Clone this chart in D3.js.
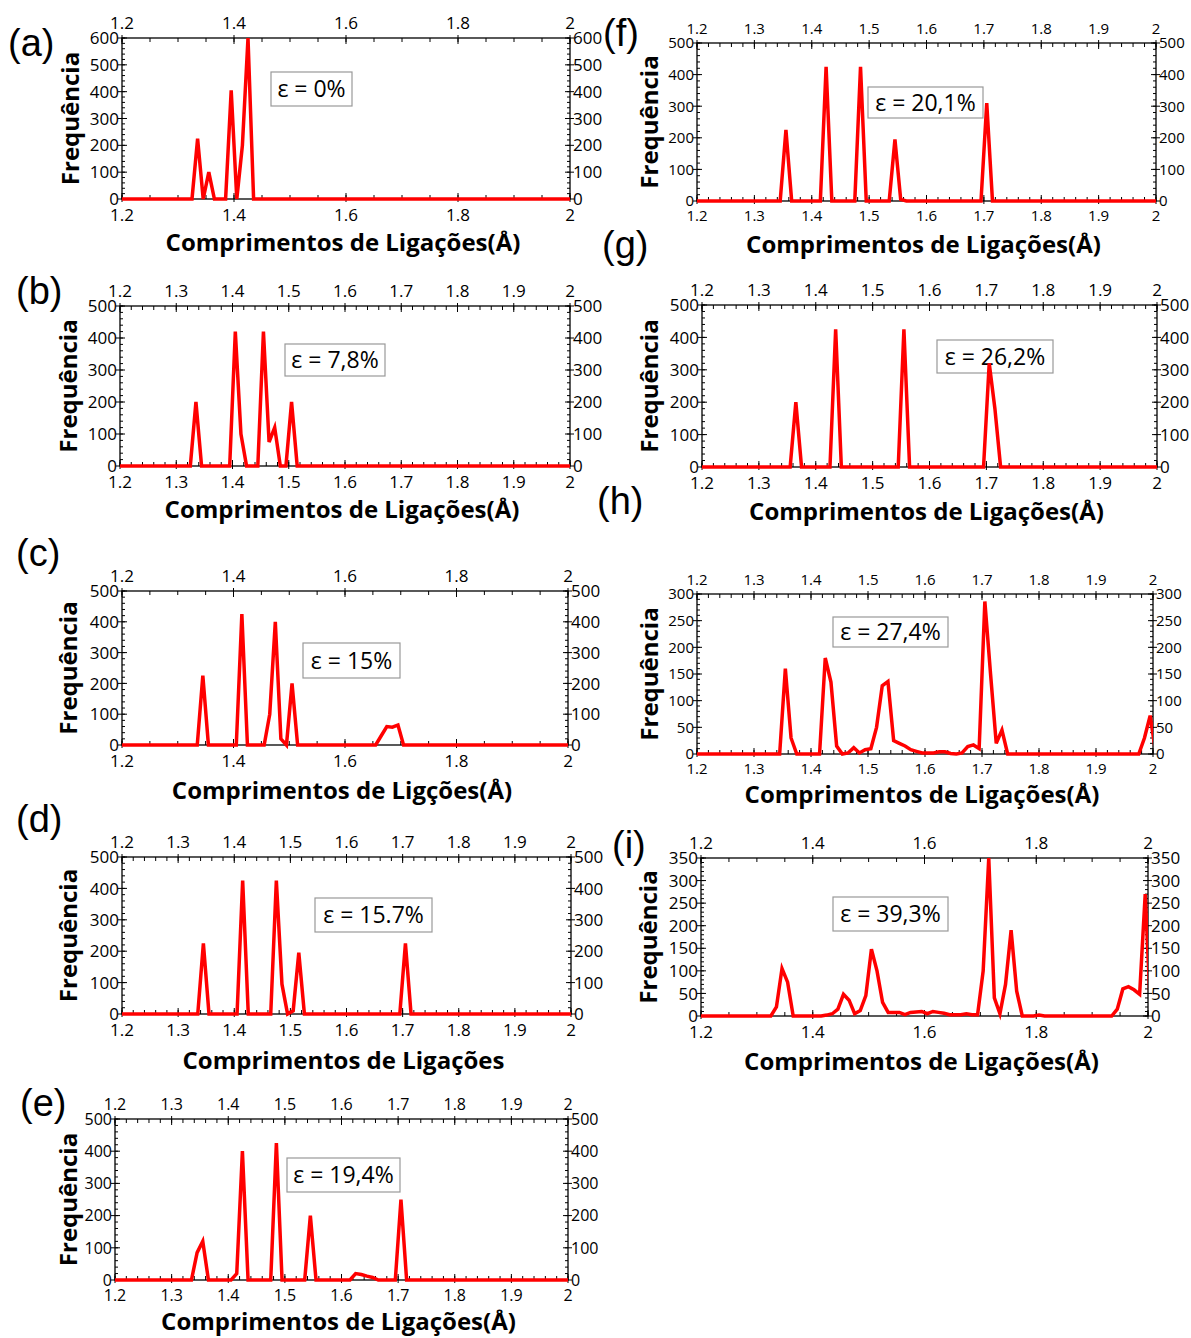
<!DOCTYPE html>
<html>
<head>
<meta charset="utf-8">
<script src="https://cdn.jsdelivr.net/npm/d3@7"></script>
<style>
  body { margin: 0; background: #fff; }
  svg { display: block; }
</style>
</head>
<body>
<svg id="fig" width="1191" height="1338"></svg>
<script>
// ---- tick labels ----
const xTicksFine = [1.2, 1.3, 1.4, 1.5, 1.6, 1.7, 1.8, 1.9, 2];
const xTicksCoarse = [1.2, 1.4, 1.6, 1.8, 2];
const yTicks600 = [0, 100, 200, 300, 400, 500, 600];
const yTicks500 = [0, 100, 200, 300, 400, 500];
const yTicks300 = [0, 50, 100, 150, 200, 250, 300];
const yTicks350 = [0, 50, 100, 150, 200, 250, 300, 350];

// ---- bond-length histograms: bond length (Å) and count, one pair per strain ----
const lenA  = [1.2, 1.325, 1.335, 1.345, 1.355, 1.365, 1.385, 1.395, 1.405, 1.415, 1.425, 1.435, 2.0];
const freqA = [0,   0,     225,   0,     100,   0,     0,     405,   0,     200,   600,   0,     0];

const lenB  = [1.2, 1.325, 1.335, 1.345, 1.395, 1.405, 1.415, 1.425, 1.445, 1.455, 1.465, 1.475, 1.485, 1.495, 1.505, 1.515, 2.0];
const freqB = [0,   0,     200,   0,     0,     420,   100,   0,     0,     420,   75,    120,   0,     0,     200,   0,     0];

const lenC  = [1.2, 1.335, 1.345, 1.355, 1.405, 1.415, 1.425, 1.455, 1.465, 1.475, 1.485, 1.495, 1.505, 1.515, 1.655, 1.665, 1.675, 1.685, 1.695, 1.705, 2.0];
const freqC = [0,   0,     225,   0,     0,     425,   0,     0,     100,   400,   20,    0,     200,   0,     0,     30,    60,    58,    65,    0,     0];

const lenD  = [1.2, 1.335, 1.345, 1.355, 1.405, 1.415, 1.425, 1.465, 1.475, 1.485, 1.495, 1.505, 1.515, 1.525, 1.695, 1.705, 1.715, 2.0];
const freqD = [0,   0,     225,   0,     0,     425,   0,     0,     425,   95,    0,     10,    195,   0,     0,     225,   0,     0];

const lenE  = [1.2, 1.335, 1.345, 1.355, 1.365, 1.405, 1.415, 1.425, 1.435, 1.475, 1.485, 1.495, 1.535, 1.545, 1.555, 1.615, 1.625, 1.635, 1.645, 1.655, 1.665, 1.695, 1.705, 1.715, 2.0];
const freqE = [0,   0,     85,    120,   0,     0,     20,    400,   0,     0,     425,   0,     0,     200,   0,     0,     20,    17,    12,    8,     0,     0,     250,   0,     0];

const lenF  = [1.2, 1.345, 1.355, 1.365, 1.415, 1.425, 1.435, 1.475, 1.485, 1.495, 1.535, 1.545, 1.555, 1.565, 1.695, 1.705, 1.715, 2.0];
const freqF = [0,   0,     225,   0,     0,     425,   0,     0,     425,   0,     0,     195,   5,     0,     0,     310,   0,     0];

const lenG  = [1.2, 1.355, 1.365, 1.375, 1.425, 1.435, 1.445, 1.545, 1.555, 1.565, 1.695, 1.705, 1.715, 1.725, 2.0];
const freqG = [0,   0,     200,   0,     0,     425,   0,     0,     425,   0,     0,     320,   180,   0,     0];

const lenH  = [1.2, 1.345, 1.355, 1.365, 1.375, 1.415, 1.425, 1.435, 1.445, 1.455, 1.465, 1.475, 1.485, 1.495, 1.505, 1.515, 1.525, 1.535, 1.545, 1.555, 1.565, 1.575, 1.585, 1.595, 1.605, 1.615, 1.625, 1.635, 1.645, 1.655, 1.665, 1.675, 1.685, 1.695, 1.705, 1.715, 1.725, 1.735, 1.745, 1.975, 1.985, 1.995, 2.005];
const freqH = [0,   0,     160,   30,    0,     0,     180,   135,   15,    0,     2,     12,    2,     8,     10,    50,    128,   136,   25,    20,    15,    8,     5,     2,     2,     2,     4,     4,     1,     0,     2,     14,    17,    10,    286,   150,   20,    45,    0,     0,     30,    72,    0];

const lenI  = [1.2, 1.325, 1.335, 1.345, 1.355, 1.365, 1.415, 1.425, 1.435, 1.445, 1.455, 1.465, 1.475, 1.485, 1.495, 1.505, 1.515, 1.525, 1.535, 1.545, 1.555, 1.565, 1.575, 1.585, 1.595, 1.605, 1.615, 1.625, 1.635, 1.645, 1.655, 1.665, 1.675, 1.685, 1.695, 1.705, 1.715, 1.725, 1.735, 1.745, 1.755, 1.765, 1.775, 1.795, 1.805, 1.815, 1.935, 1.945, 1.955, 1.965, 1.975, 1.985, 1.995, 2.005];
const freqI = [0,   0,     20,    105,   75,    0,     0,     2,     5,     15,    48,    35,    5,     12,    45,    148,   100,   30,    8,     8,     8,     3,     8,     9,     10,    5,     10,    8,     6,     3,     3,     3,     5,     3,     3,     100,   350,   40,    5,     70,    190,   55,    0,     0,     2,     0,     0,     15,    60,    65,    58,    48,    270,   0];

const strainLabels = ["ε = 0%", "ε = 7,8%", "ε = 15%", "ε = 15.7%", "ε = 19,4%", "ε = 20,1%", "ε = 26,2%", "ε = 27,4%", "ε = 39,3%"];
const panelLetters = ["(a)", "(b)", "(c)", "(d)", "(e)", "(f)", "(g)", "(h)", "(i)"];
const xTitleFull = "Comprimentos de Ligações(Å)";
const xTitleC = "Comprimentos de Ligções(Å)";
const xTitleD = "Comprimentos de Ligações";
const yTitle = "Frequência";

// ---- panel layout (pixel boxes) ----
const panels = [
  { len: lenA, freq: freqA, yTicks: yTicks600, yMinor: 20, xTicks: xTicksCoarse, xMinor: 0.05, L: 122, R: 570, T: 38,  B: 199,  fs: 17,
    letter: [8, 56],   title: xTitleFull, titleY: 251, yTitleX: 80, box: [271, 72, 81, 34] },
  { len: lenB, freq: freqB, yTicks: yTicks500, yMinor: 20, xTicks: xTicksFine,   xMinor: 0.02, L: 120, R: 570, T: 306, B: 466,  fs: 17,
    letter: [16, 304], title: xTitleFull, titleY: 518, yTitleX: 78, box: [285, 344, 100, 32] },
  { len: lenC, freq: freqC, yTicks: yTicks500, yMinor: 20, xTicks: xTicksCoarse, xMinor: 0.05, L: 122, R: 568, T: 591, B: 745,  fs: 17,
    letter: [16, 566], title: xTitleC,    titleY: 799, yTitleX: 78, box: [303, 643, 97, 35] },
  { len: lenD, freq: freqD, yTicks: yTicks500, yMinor: 20, xTicks: xTicksFine,   xMinor: 0.02, L: 122, R: 571, T: 857, B: 1014, fs: 17,
    letter: [16, 832], title: xTitleD,    titleY: 1069, yTitleX: 78, box: [315, 898, 117, 34] },
  { len: lenE, freq: freqE, yTicks: yTicks500, yMinor: 20, xTicks: xTicksFine,   xMinor: 0.02, L: 115, R: 568, T: 1119, B: 1280, fs: 16,
    letter: [20, 1116], title: xTitleFull, titleY: 1330, yTitleX: 78, box: [287, 1158, 113, 34] },
  { len: lenF, freq: freqF, yTicks: yTicks500, yMinor: 20, xTicks: xTicksFine,   xMinor: 0.02, L: 697, R: 1156, T: 43, B: 201,  fs: 15,
    letter: [603, 46], title: xTitleFull, titleY: 253, yTitleX: 659, box: [868, 87, 115, 31] },
  { len: lenG, freq: freqG, yTicks: yTicks500, yMinor: 20, xTicks: xTicksFine,   xMinor: 0.02, L: 702, R: 1157, T: 305, B: 467,  fs: 17,
    letter: [602, 258], title: xTitleFull, titleY: 520, yTitleX: 659, box: [937, 340, 116, 33] },
  { len: lenH, freq: freqH, yTicks: yTicks300, yMinor: 10, xTicks: xTicksFine,   xMinor: 0.02, L: 697, R: 1153, T: 594, B: 754,  fs: 15,
    letter: [597, 514], title: xTitleFull, titleY: 803, yTitleX: 659, box: [833, 617, 115, 30] },
  { len: lenI, freq: freqI, yTicks: yTicks350, yMinor: 10, xTicks: xTicksCoarse, xMinor: 0.05, L: 701, R: 1148, T: 858, B: 1016, fs: 17,
    letter: [612, 858], title: xTitleFull, titleY: 1070, yTitleX: 658, box: [833, 897, 115, 34] }
];

const svg = d3.select("#fig");
const TICK_FONT = "'Open Sans', 'DejaVu Sans', sans-serif";

panels.forEach((p, i) => {
  const g = svg.append("g");
  const x = d3.scaleLinear().domain([1.2, 2]).range([p.L, p.R]);
  const yMax = p.yTicks[p.yTicks.length - 1];
  const y = d3.scaleLinear().domain([0, yMax]).range([p.B, p.T]);

  // frame
  g.append("rect")
    .attr("x", p.L).attr("y", p.T)
    .attr("width", p.R - p.L).attr("height", p.B - p.T)
    .attr("fill", "none").attr("stroke", "#000").attr("stroke-width", 1.3);

  const ticks = g.append("g").attr("stroke", "#000").attr("stroke-width", 1);

  // x ticks (inward) on bottom and top
  const xMinor = d3.range(1.2, 2.0001, p.xMinor);
  xMinor.forEach(v => {
    ticks.append("line").attr("x1", x(v)).attr("x2", x(v)).attr("y1", p.B).attr("y2", p.B - 4);
    ticks.append("line").attr("x1", x(v)).attr("x2", x(v)).attr("y1", p.T).attr("y2", p.T + 4);
  });
  p.xTicks.forEach(v => {
    ticks.append("line").attr("x1", x(v)).attr("x2", x(v)).attr("y1", p.B + 3).attr("y2", p.B - 6);
    ticks.append("line").attr("x1", x(v)).attr("x2", x(v)).attr("y1", p.T - 3).attr("y2", p.T + 6);
  });

  // y ticks on left and right
  const yMinor = d3.range(0, yMax + 0.001, p.yMinor);
  yMinor.forEach(v => {
    ticks.append("line").attr("x1", p.L).attr("x2", p.L + 3).attr("y1", y(v)).attr("y2", y(v));
    ticks.append("line").attr("x1", p.R).attr("x2", p.R - 3).attr("y1", y(v)).attr("y2", y(v));
  });
  p.yTicks.forEach(v => {
    ticks.append("line").attr("x1", p.L - 4).attr("x2", p.L + 5).attr("y1", y(v)).attr("y2", y(v));
    ticks.append("line").attr("x1", p.R + 4).attr("x2", p.R - 5).attr("y1", y(v)).attr("y2", y(v));
  });

  const fmt = v => String(+v.toFixed(1));
  const lab = g.append("g").attr("font-family", TICK_FONT).attr("font-size", p.fs).attr("fill", "#000");
  p.xTicks.forEach(v => {
    lab.append("text").attr("x", x(v)).attr("y", p.B + 9 + p.fs * 0.75).attr("text-anchor", "middle").text(fmt(v));
    lab.append("text").attr("x", x(v)).attr("y", p.T - 9).attr("text-anchor", "middle").text(fmt(v));
  });
  p.yTicks.forEach(v => {
    lab.append("text").attr("x", p.L - 3).attr("y", y(v)).attr("dy", "0.36em").attr("text-anchor", "end").text(v);
    lab.append("text").attr("x", p.R + 3).attr("y", y(v)).attr("dy", "0.36em").attr("text-anchor", "start").text(v);
  });

  // strain annotation box
  const [bx, by, bw, bh] = p.box;
  g.append("rect").attr("x", bx).attr("y", by).attr("width", bw).attr("height", bh)
    .attr("fill", "#fff").attr("stroke", "#999").attr("stroke-width", 1.2);
  g.append("text").attr("x", bx + bw / 2).attr("y", by + bh / 2).attr("dy", "0.36em")
    .attr("text-anchor", "middle").attr("font-family", TICK_FONT).attr("font-size", 23)
    .text(strainLabels[i]);

  // histogram line, clipped to the plot width
  const clipId = "clip" + i;
  svg.append("defs").append("clipPath").attr("id", clipId)
    .append("rect").attr("x", p.L).attr("y", p.T - 10).attr("width", p.R - p.L).attr("height", p.B - p.T + 20);
  const pts = p.len.map((v, k) => [v, p.freq[k]]);
  g.append("path")
    .datum(pts)
    .attr("clip-path", `url(#${clipId})`)
    .attr("fill", "none").attr("stroke", "#ff0000").attr("stroke-width", 3.5)
    .attr("d", d3.line().x(d => x(d[0])).y(d => y(d[1])));

  // axis titles
  g.append("text").attr("x", (p.L + p.R) / 2 - 3).attr("y", p.titleY)
    .attr("text-anchor", "middle").attr("font-family", TICK_FONT).attr("font-weight", "bold")
    .attr("font-size", 24).text(p.title);
  g.append("text")
    .attr("transform", `translate(${p.yTitleX - 1},${(p.T + p.B) / 2}) rotate(-90)`)
    .attr("text-anchor", "middle").attr("font-family", TICK_FONT).attr("font-weight", "bold")
    .attr("font-size", 24).text(yTitle);

  // panel letter
  g.append("text").attr("x", p.letter[0]).attr("y", p.letter[1])
    .attr("font-family", "'Liberation Sans', Arial, sans-serif").attr("font-size", 38)
    .text(panelLetters[i]);
});
</script>
</body>
</html>
